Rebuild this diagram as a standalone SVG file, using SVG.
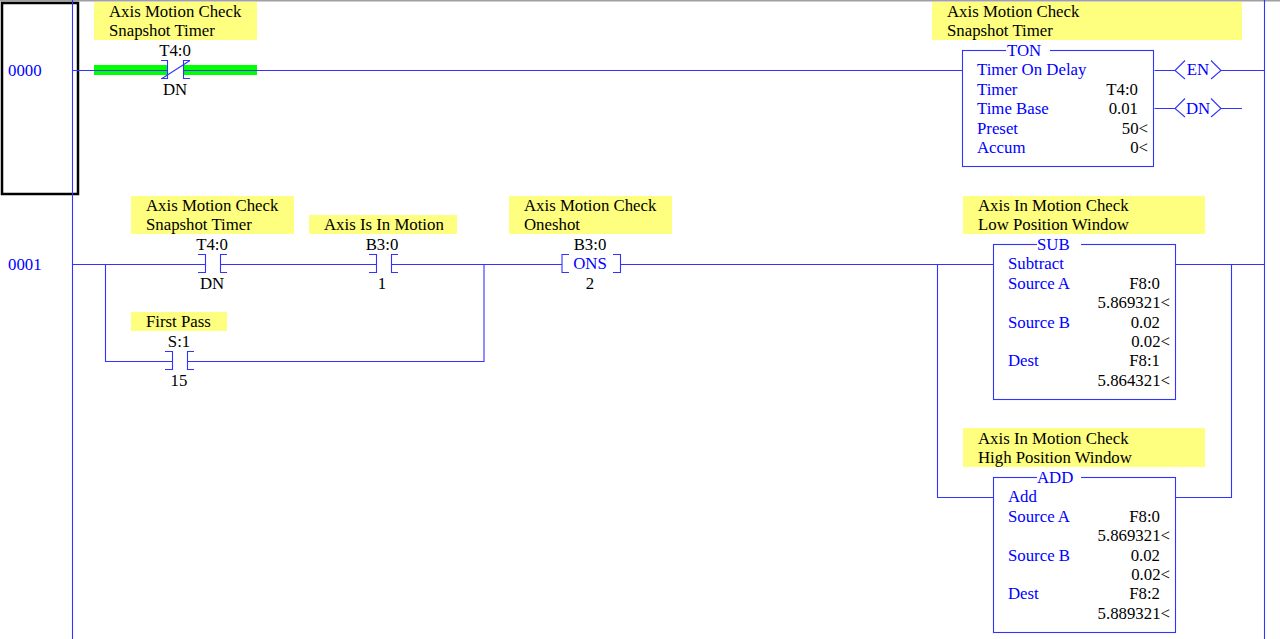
<svg xmlns="http://www.w3.org/2000/svg" width="1280" height="639" viewBox="0 0 1280 639">
<style>
text{font-family:"Liberation Serif","Times New Roman",serif;font-size:16.8px;fill:#000}
.b{fill:#0000ff}
.m{text-anchor:middle}
.e{text-anchor:end}
.y{fill:#ffff7f}
.w{fill:none;stroke:#3333ff;stroke-width:1.1}
.box{fill:#fff;stroke:#3333ff;stroke-width:1.1}
</style>
<rect width="1280" height="639" fill="#fff"/>
<rect width="1280" height="1.5" fill="#a0a0a0"/>
<g id="rung-number-selection"><rect x="2" y="3" width="76" height="191" fill="none" stroke="#000" stroke-width="2.5"/></g>
<g id="green-highlight" fill="#00ff00"><rect x="94" y="65" width="74" height="10"/><rect x="183" y="65" width="74" height="10"/></g>
<g id="connectors" class="w">
<path d="M72.5 0V639M1264.5 0V639"/>
<path d="M72.5 70.5H167.5M183.5 70.5H962.5"/>
<path d="M1154.5 70.5H1175M1221 70.5H1264.5M1154.5 108.5H1175M1221 108.5H1242"/>
<path d="M72.5 264.5H205.5M220.5 264.5H376.5M391.5 264.5H562M621 264.5H993.5M1175.5 264.5H1264.5"/>
<path d="M105.5 264.5V361.5H172.5M187.5 361.5H484V264.5"/>
<path d="M937.5 264.5V497.5H993.5M1175.5 497.5H1231.5V264.5"/>
</g>
<g id="rung-0000"><text x="8" y="76" class="b">0000</text></g>
<g id="rung-0001"><text x="8" y="270" class="b">0001</text></g>
<g id="contact-t4-0-nc">
<rect x="94" y="2" width="163" height="38" class="y"/>
<text x="109" y="17">Axis Motion Check</text><text x="109" y="36">Snapshot Timer</text>
<text x="175" y="56" class="m">T4:0</text><text x="175" y="95" class="m">DN</text>
<path class="w" d="M161 60.5H167.5V78.5H161M190 60.5H183.5V78.5H190M162 78.5L190 60.5"/>
</g>
<g id="ton-instruction">
<rect x="932" y="2" width="310" height="38" class="y"/>
<text x="947" y="17">Axis Motion Check</text><text x="947" y="36">Snapshot Timer</text>
<rect x="962.5" y="50.5" width="191" height="116" class="box"/>
<rect x="1006" y="48" width="44" height="5" fill="#fff"/>
<text x="1007" y="56" class="b">TON</text>
<text x="977" y="75" class="b">Timer On Delay</text>
<text x="977" y="95" class="b">Timer</text><text x="1138" y="95" class="e">T4:0</text>
<text x="977" y="114" class="b">Time Base</text><text x="1138" y="114" class="e">0.01</text>
<text x="977" y="134" class="b">Preset</text><text x="1148" y="134" class="e">50&lt;</text>
<text x="977" y="153" class="b">Accum</text><text x="1148" y="153" class="e">0&lt;</text>
</g>
<g id="coil-en"><path class="w" d="M1185 60.5L1175 70.5L1185 79M1211 60.5L1221 70.5L1211 79"/><text x="1198" y="75" class="b m">EN</text></g>
<g id="coil-dn"><path class="w" d="M1185 98.5L1175 108.5L1185 117M1211 98.5L1221 108.5L1211 117"/><text x="1198" y="114" class="b m">DN</text></g>
<g id="contact-t4-0-no">
<rect x="131" y="196" width="163" height="38" class="y"/>
<text x="146" y="211">Axis Motion Check</text><text x="146" y="230">Snapshot Timer</text>
<text x="212" y="250" class="m">T4:0</text><text x="212" y="289" class="m">DN</text>
<path class="w" d="M198 254.5H205.5V272.5H198M227 254.5H220.5V272.5H227"/>
</g>
<g id="contact-b3-0-1">
<rect x="309" y="215" width="148" height="19" class="y"/>
<text x="324" y="230">Axis Is In Motion</text>
<text x="382" y="250" class="m">B3:0</text><text x="382" y="289" class="m">1</text>
<path class="w" d="M369 254.5H376.5V272.5H369M398 254.5H391.5V272.5H398"/>
</g>
<g id="contact-s-1-15">
<rect x="131" y="312" width="96" height="19" class="y"/>
<text x="146" y="327">First Pass</text>
<text x="179" y="347" class="m">S:1</text><text x="179" y="386" class="m">15</text>
<path class="w" d="M165 351.5H172.5V369.5H165M194 351.5H187.5V369.5H194"/>
</g>
<g id="ons-instruction">
<rect x="509" y="196" width="163" height="38" class="y"/>
<text x="524" y="211">Axis Motion Check</text><text x="524" y="230">Oneshot</text>
<text x="590" y="250" class="m">B3:0</text><text x="590" y="269" class="b m">ONS</text><text x="590" y="289" class="m">2</text>
<path class="w" d="M569 254.5H562V272.5H569M613 254.5H620.5V272.5H613"/>
</g>
<g id="sub-instruction">
<rect x="963" y="196" width="242" height="38" class="y"/>
<text x="978" y="211">Axis In Motion Check</text><text x="978" y="230">Low Position Window</text>
<rect x="993.5" y="244.5" width="182" height="155" class="box"/>
<rect x="1037" y="242" width="44" height="5" fill="#fff"/>
<text x="1037" y="250" class="b">SUB</text>
<text x="1008" y="269" class="b">Subtract</text>
<text x="1008" y="289" class="b">Source A</text><text x="1160" y="289" class="e">F8:0</text>
<text x="1170" y="308" class="e">5.869321&lt;</text>
<text x="1008" y="328" class="b">Source B</text><text x="1160" y="328" class="e">0.02</text>
<text x="1170" y="347" class="e">0.02&lt;</text>
<text x="1008" y="366" class="b">Dest</text><text x="1160" y="366" class="e">F8:1</text>
<text x="1170" y="386" class="e">5.864321&lt;</text>
</g>
<g id="add-instruction">
<rect x="963" y="428" width="242" height="39" class="y"/>
<text x="978" y="444">Axis In Motion Check</text><text x="978" y="463">High Position Window</text>
<rect x="993.5" y="477.5" width="182" height="155" class="box"/>
<rect x="1037" y="475" width="44" height="5" fill="#fff"/>
<text x="1037" y="483" class="b">ADD</text>
<text x="1008" y="502" class="b">Add</text>
<text x="1008" y="522" class="b">Source A</text><text x="1160" y="522" class="e">F8:0</text>
<text x="1170" y="541" class="e">5.869321&lt;</text>
<text x="1008" y="561" class="b">Source B</text><text x="1160" y="561" class="e">0.02</text>
<text x="1170" y="580" class="e">0.02&lt;</text>
<text x="1008" y="599" class="b">Dest</text><text x="1160" y="599" class="e">F8:2</text>
<text x="1170" y="619" class="e">5.889321&lt;</text>
</g>
</svg>
